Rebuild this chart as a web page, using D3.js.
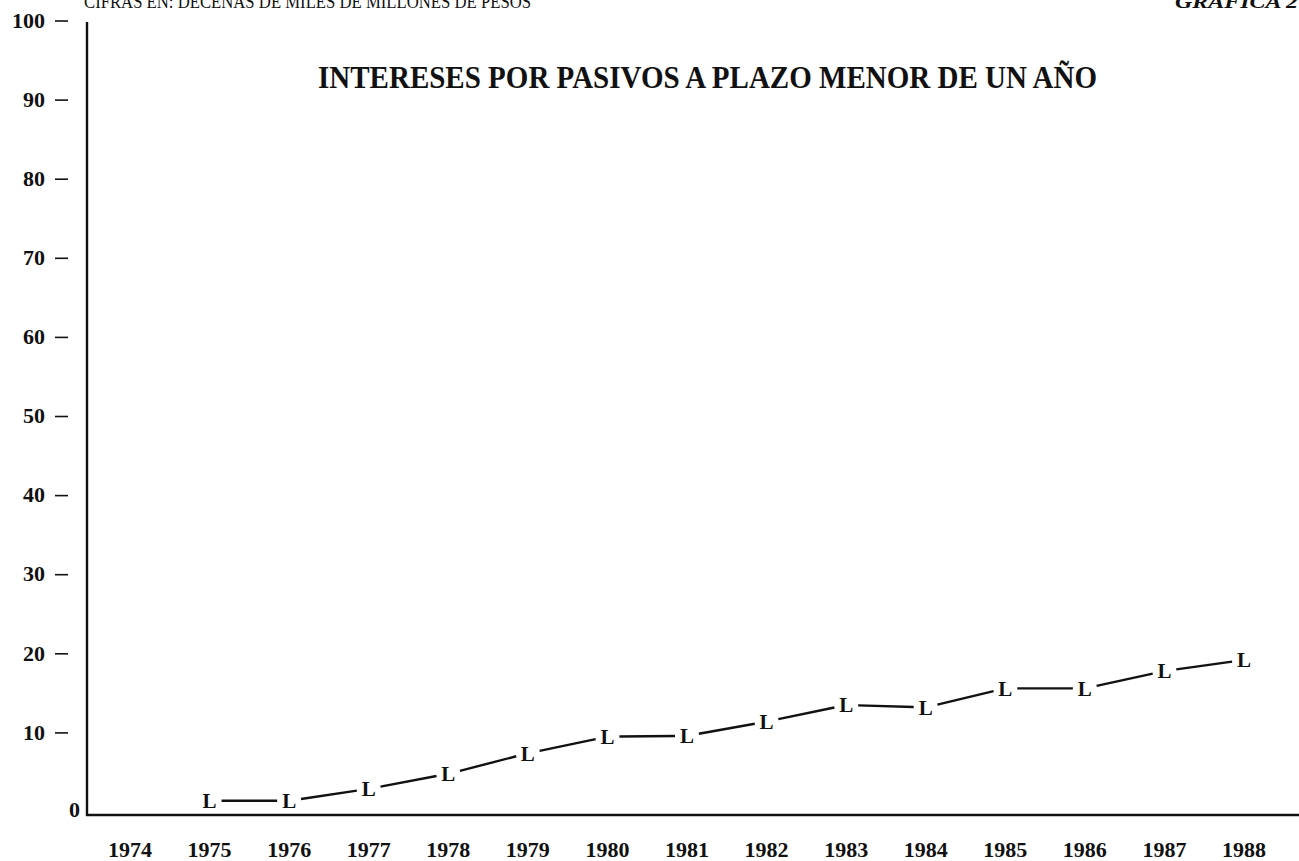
<!DOCTYPE html>
<html>
<head>
<meta charset="utf-8">
<script src="https://cdn.jsdelivr.net/npm/d3@7"></script>
<style>
  html, body { margin: 0; padding: 0; background: #fff; overflow: hidden; }
  svg text { font-family: "Liberation Serif", "DejaVu Serif", serif; font-weight: bold; fill: #111; }
</style>
</head>
<body>
<div id="chart"></div>
<script>
// Data (decenas de miles de millones de pesos)
const years = [1974, 1975, 1976, 1977, 1978, 1979, 1980, 1981, 1982, 1983, 1984, 1985, 1986, 1987, 1988];
const seriesYears = [1975, 1976, 1977, 1978, 1979, 1980, 1981, 1982, 1983, 1984, 1985, 1986, 1987, 1988];
const seriesValues = [1.3, 1.3, 2.8, 4.7, 7.3, 9.4, 9.5, 11.3, 13.4, 13.1, 15.5, 15.5, 17.7, 19.1];
const yTicks = [10, 20, 30, 40, 50, 60, 70, 80, 90, 100];

const W = 1299, H = 861;
const svg = d3.select('#chart').append('svg')
    .attr('width', W).attr('height', H);

const x = d3.scalePoint().domain(years).range([130, 1244]);
const y = d3.scaleLinear().domain([0, 100]).range([811, 20]);

// Header texts (the scan crops them at the top edge)
svg.append('text')
    .attr('x', 84).attr('y', 8)
    .style('font-size', '18px').style('font-weight', 'normal')
    .attr('textLength', 447).attr('lengthAdjust', 'spacingAndGlyphs')
    .text('CIFRAS EN: DECENAS DE MILES DE MILLONES DE PESOS');

svg.append('text')
    .attr('x', 1175).attr('y', 8)
    .style('font-size', '19px').style('font-style', 'italic')
    .attr('textLength', 135).attr('lengthAdjust', 'spacingAndGlyphs')
    .text('GRAFICA 27');

svg.append('text')
    .attr('x', 318).attr('y', 88)
    .style('font-size', '32px')
    .attr('textLength', 779).attr('lengthAdjust', 'spacingAndGlyphs')
    .text('INTERESES POR PASIVOS A PLAZO MENOR DE UN AÑO');

// Axes lines
svg.append('line')
    .attr('x1', 87).attr('x2', 87)
    .attr('y1', 22).attr('y2', y(0) + 5)
    .attr('stroke', '#111').attr('stroke-width', 2.4);

svg.append('line')
    .attr('x1', 86).attr('x2', W)
    .attr('y1', y(0) + 4).attr('y2', y(0) + 4)
    .attr('stroke', '#111').attr('stroke-width', 2.6);

// Y tick labels with detached dashes
const yt = svg.append('g');
yTicks.forEach(v => {
    yt.append('text')
        .attr('x', 45).attr('y', y(v))
        .attr('dy', '0.35em')
        .attr('text-anchor', 'end')
        .style('font-size', '22px')
        .text(v);
    yt.append('line')
        .attr('x1', 55).attr('x2', 68)
        .attr('y1', y(v) + 1).attr('y2', y(v) + 1)
        .attr('stroke', '#111').attr('stroke-width', 1.6);
});
yt.append('text')
    .attr('x', 80).attr('y', y(0) - 2)
    .attr('dy', '0.35em')
    .attr('text-anchor', 'end')
    .style('font-size', '22px')
    .text(0);

// X labels
svg.append('g').selectAll('text')
    .data(years)
    .enter().append('text')
    .attr('x', d => x(d))
    .attr('y', 857)
    .attr('text-anchor', 'middle')
    .style('font-size', '22px')
    .text(d => d);

// Series: segments with gaps around the L markers
const pts = seriesYears.map((yr, i) => ({ px: x(yr), py: y(seriesValues[i]) }));
const GAP = 12;
const segs = d3.pairs(pts).map(([a, b]) => {
    const dx = b.px - a.px, dy = b.py - a.py;
    const len = Math.hypot(dx, dy);
    const ux = dx / len, uy = dy / len;
    return { x1: a.px + ux * GAP, y1: a.py + uy * GAP, x2: b.px - ux * GAP, y2: b.py - uy * GAP };
});

svg.append('g').selectAll('line')
    .data(segs)
    .enter().append('line')
    .attr('x1', d => d.x1).attr('y1', d => d.y1)
    .attr('x2', d => d.x2).attr('y2', d => d.y2)
    .attr('stroke', '#111').attr('stroke-width', 2.4);

svg.append('g').selectAll('text')
    .data(pts)
    .enter().append('text')
    .attr('x', d => d.px)
    .attr('y', d => d.py)
    .attr('dy', '0.35em')
    .attr('text-anchor', 'middle')
    .style('font-size', '21px')
    .text('L');
</script>
</body>
</html>
